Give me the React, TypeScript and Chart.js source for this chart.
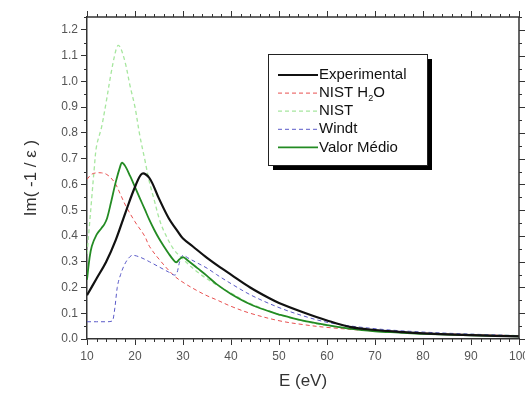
import React, { useEffect, useRef } from 'react';
import { Chart, registerables } from 'chart.js';
Chart.register(...registerables);

// ---- data ----
const expX = [10, 12, 14, 16, 18, 20, 21.5, 23, 25, 27, 29, 30, 32, 35, 38, 40, 44, 48, 50, 55, 60, 65, 70, 75, 80, 90, 100];
const expY = [0.17, 0.235, 0.30, 0.385, 0.49, 0.59, 0.642, 0.625, 0.545, 0.47, 0.415, 0.39, 0.36, 0.315, 0.275, 0.25, 0.2, 0.158, 0.14, 0.104, 0.072, 0.046, 0.035, 0.028, 0.022, 0.015, 0.01];

const medX = [10, 10.5, 11, 12, 13, 13.6, 14.2, 15, 16, 17, 17.3, 18, 19, 20, 21, 22, 23, 24, 25, 26, 27, 28, 28.6, 29.3, 30, 31, 33, 35, 37, 40, 44, 48, 50, 55, 60, 65, 70, 75, 80, 90, 100];
const medY = [0.23, 0.31, 0.36, 0.405, 0.43, 0.445, 0.47, 0.53, 0.61, 0.675, 0.685, 0.67, 0.632, 0.59, 0.547, 0.505, 0.462, 0.424, 0.39, 0.36, 0.332, 0.307, 0.298, 0.31, 0.318, 0.305, 0.275, 0.245, 0.213, 0.175, 0.135, 0.107, 0.095, 0.071, 0.054, 0.039, 0.03, 0.025, 0.02, 0.014, 0.01];

const h2oX = [10, 11, 12, 13, 14, 15, 16, 17, 18, 20, 22, 23, 25, 28, 30, 33, 35, 37, 40, 44, 50, 55, 60, 70, 80, 90, 100];
const h2oY = [0.62, 0.64, 0.645, 0.645, 0.64, 0.625, 0.6, 0.56, 0.52, 0.455, 0.4, 0.36, 0.31, 0.248, 0.22, 0.187, 0.168, 0.152, 0.127, 0.1, 0.071, 0.056, 0.045, 0.031, 0.023, 0.017, 0.013];

const nistX = [10, 10.5, 11, 11.5, 12, 13, 14, 15, 16, 16.5, 17, 18, 19, 20, 21, 22, 23, 24, 25, 26, 28, 30, 33, 37, 40, 44, 50, 55, 60, 70, 80, 90, 100];
const nistY = [0.33, 0.44, 0.55, 0.66, 0.75, 0.82, 0.92, 1.03, 1.12, 1.14, 1.13, 1.07, 0.98, 0.9, 0.79, 0.7, 0.61, 0.54, 0.47, 0.42, 0.35, 0.31, 0.26, 0.21, 0.178, 0.138, 0.095, 0.07, 0.052, 0.033, 0.024, 0.018, 0.013];

const windtX = [10, 12, 14, 15.3, 15.8, 16.3, 17, 17.6, 18.5, 19.5, 21, 23, 25, 27, 28.3, 28.8, 29.3, 30, 31, 33, 35, 37, 40, 44, 50, 55, 60, 70, 80, 90, 100];
const windtY = [0.067, 0.067, 0.067, 0.07, 0.12, 0.2, 0.25, 0.28, 0.31, 0.325, 0.318, 0.3, 0.28, 0.26, 0.248, 0.26, 0.3, 0.325, 0.315, 0.295, 0.275, 0.25, 0.215, 0.172, 0.122, 0.09, 0.065, 0.04, 0.027, 0.019, 0.013];

const seriesNames = ['Experimental', 'NIST H2O', 'NIST', 'Windt', 'Valor Médio'];
const xTitle = 'E (eV)';
const yTitle = 'Im( -1 / ε )';

// ---- styles ----
const FONT = "'Liberation Sans', Arial, Helvetica, sans-serif";
const AXIS_COLOR = '#333';
const styles: Record<string, { color: string; width: number; dash: number[]; smooth: boolean }> = {
  'Experimental': { color: '#111111', width: 2.2, dash: [], smooth: true },
  'NIST H2O': { color: '#e85050', width: 1, dash: [4, 3], smooth: true },
  'NIST': { color: '#a6e69e', width: 1.3, dash: [4, 3], smooth: true },
  'Windt': { color: '#5a5ac8', width: 1, dash: [4, 3], smooth: false },
  'Valor Médio': { color: '#238b23', width: 1.8, dash: [], smooth: true },
};

const pts = (xs: number[], ys: number[]) => xs.map((x, i) => ({ x, y: ys[i] }));

const frameLegendPlugin = {
  id: 'frameLegend',
  afterDraw(chart: any) {
    const { ctx, chartArea: a, scales } = chart;
    const xs = scales.x, ys = scales.y;
    ctx.save();
    ctx.strokeStyle = AXIS_COLOR;
    ctx.lineWidth = 1.5;
    ctx.beginPath();
    ctx.moveTo(a.left, a.top);
    ctx.lineTo(a.right, a.top);
    ctx.lineTo(a.right, a.bottom);
    ctx.stroke();
    ctx.lineWidth = 1;
    ctx.beginPath();
    for (let v = 10; v <= 100; v += 2) {
      const px = Math.round(xs.getPixelForValue(v)) + 0.5;
      const major = v % 10 === 0;
      if (!major) { ctx.moveTo(px, a.bottom); ctx.lineTo(px, a.bottom + 3); }
      ctx.moveTo(px, a.top); ctx.lineTo(px, a.top - (major ? 6 : 3));
    }
    for (let k = 0; k <= 25; k++) {
      const v = k * 0.05;
      const py = Math.round(ys.getPixelForValue(v)) + 0.5;
      const major = k % 2 === 0;
      if (!major) { ctx.moveTo(a.left, py); ctx.lineTo(a.left - 3, py); }
      ctx.moveTo(a.right, py); ctx.lineTo(a.right + (major ? 6 : 3), py);
    }
    ctx.stroke();

    // legend
    const L = a.left + 181, T = a.top + 37, W = 159, H = 111, S = 5;
    ctx.fillStyle = '#000';
    ctx.fillRect(L + S, T + S, W, H);
    ctx.fillStyle = '#fff';
    ctx.fillRect(L, T, W, H);
    ctx.strokeStyle = '#222';
    ctx.lineWidth = 1;
    ctx.strokeRect(L + 0.5, T + 0.5, W, H);
    const rowH = 18.1;
    seriesNames.forEach((name, i) => {
      const st = styles[name];
      const y = T + 21 + rowH * i;
      ctx.strokeStyle = st.color;
      ctx.lineWidth = st.width;
      ctx.setLineDash(st.dash);
      ctx.beginPath();
      ctx.moveTo(L + 10, y);
      ctx.lineTo(L + 50, y);
      ctx.stroke();
      ctx.setLineDash([]);
      ctx.fillStyle = '#111';
      ctx.textBaseline = 'middle';
      ctx.textAlign = 'left';
      ctx.font = `15px ${FONT}`;
      const tx = L + 51;
      if (name === 'NIST H2O') {
        const p1 = 'NIST H';
        ctx.fillText(p1, tx, y);
        const w1 = ctx.measureText(p1).width;
        ctx.font = `9px ${FONT}`;
        ctx.fillText('2', tx + w1, y + 5);
        const w2 = ctx.measureText('2').width;
        ctx.font = `15px ${FONT}`;
        ctx.fillText('O', tx + w1 + w2, y);
      } else {
        ctx.fillText(name, tx, y);
      }
    });
    ctx.restore();
  },
};

export default function App() {
  const ref = useRef<HTMLCanvasElement>(null);
  useEffect(() => {
    if (!ref.current) return;
    Chart.defaults.font.family = FONT;
    const mk = (name: string, xs: number[], ys: number[]) => {
      const st = styles[name];
      return {
        label: name,
        data: pts(xs, ys),
        borderColor: st.color,
        borderWidth: st.width,
        borderDash: st.dash,
        pointRadius: 0,
        fill: false,
        tension: st.smooth ? 0.35 : 0,
        cubicInterpolationMode: st.smooth ? ('default' as const) : ('monotone' as const),
      };
    };
    const chart = new Chart(ref.current, {
      type: 'line',
      data: {
        datasets: [
          mk('Experimental', expX, expY),
          mk('Valor Médio', medX, medY),
          mk('Windt', windtX, windtY),
          mk('NIST H2O', h2oX, h2oY),
          mk('NIST', nistX, nistY),
        ],
      },
      options: {
        animation: false,
        responsive: false,
        devicePixelRatio: 1,
        layout: { padding: { left: 0, right: 6, top: 17, bottom: 0 } },
        plugins: { legend: { display: false }, tooltip: { enabled: false } },
        scales: {
          x: {
            type: 'linear',
            min: 10,
            max: 100,
            ticks: { stepSize: 10, autoSkip: false, maxRotation: 0, font: { size: 12 }, color: '#555', padding: 4 },
            grid: { drawOnChartArea: false, tickLength: 6, color: AXIS_COLOR, tickWidth: 1 },
            border: { color: AXIS_COLOR, width: 1.5 },
            title: { display: true, text: xTitle, font: { size: 17 }, color: '#333', padding: { top: 0, bottom: 2 } },
            afterFit: (s: any) => { s.height = 55; s.paddingLeft = 0; s.paddingRight = 0; },
          },
          y: {
            type: 'linear',
            min: 0,
            max: 1.25,
            ticks: { stepSize: 0.1, includeBounds: false, font: { size: 12 }, color: '#555', padding: 3, callback: (v: any) => Number(v).toFixed(1) },
            grid: { drawOnChartArea: false, tickLength: 6, color: AXIS_COLOR, tickWidth: 1 },
            border: { color: AXIS_COLOR, width: 1.5 },
            title: { display: true, text: yTitle, font: { size: 17 }, color: '#333', padding: { top: 21, bottom: 0 } },
            afterFit: (s: any) => { s.width = 87; s.paddingTop = 0; s.paddingBottom = 0; },
          },
        },
      },
      plugins: [frameLegendPlugin],
    });
    return () => chart.destroy();
  }, []);
  return (
    <div style={{ position: 'absolute', left: 0, top: 0, width: 525, height: 394, background: '#fff' }}>
      <canvas ref={ref} width={525} height={394} style={{ width: 525, height: 394, display: 'block' }} />
    </div>
  );
}
